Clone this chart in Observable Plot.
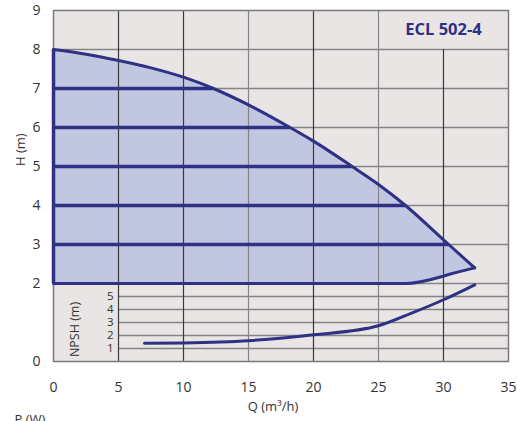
<!DOCTYPE html>
<html>
<head>
<meta charset="utf-8">
<script src="https://cdn.jsdelivr.net/npm/d3@7"></script>
<script src="https://cdn.jsdelivr.net/npm/@observablehq/plot@0.6"></script>
<style>
  html, body { margin: 0; padding: 0; background: #fff; }
  #chart svg { display: block; }
</style>
</head>
<body>
<div id="chart"></div>
<script>
// Pump curve: flow Q (m³/h) against head H (m)
const flowQ   = [0, 2.5, 5, 7.5, 10, 12.3, 15, 18.2, 20, 22.97, 25, 27.08, 30, 30.4, 32.4];
const headMax = [8, 7.88, 7.72, 7.53, 7.29, 7, 6.58, 6, 5.65, 5, 4.54, 4, 3.12, 3, 2.4];
const headMin = [2, 2, 2, 2, 2, 2, 2, 2, 2, 2, 2, 2.0, 2.19, 2.23, 2.4];

// Constant-head speed settings and where they meet the max curve
const speedHead = [7, 6, 5, 4, 3];
const speedEndQ = [12.3, 18.2, 22.97, 27.08, 30.4];

// NPSH requirement (m), drawn in the lower band at a third of the head scale
const npshQ = [7, 10, 15, 20, 25, 27.5, 30, 32.4];
const npshV = [1.4, 1.43, 1.6, 2.05, 2.75, 3.7, 4.75, 5.9];

const xTicks = [0, 5, 10, 15, 20, 25, 30, 35];
const yTicks = [0, 2, 3, 4, 5, 6, 7, 8, 9];
const npshTicks = [1, 2, 3, 4, 5];
const hGrid = [2, 3, 4, 5, 6, 7, 8];
const vGrid = [5, 10, 15, 20, 25, 30];

const title = "ECL 502-4";

const curve = flowQ.map((q, i) => ({q, hi: headMax[i], lo: headMin[i]}));
const speeds = speedHead.map((h, i) => ({h, q2: speedEndQ[i]}));
const npsh = npshQ.map((q, i) => ({q, v: npshV[i]}));
const npshScale = 3;

const navy = "#2e3184";
const gridDark = "#3a3a3a";
const gridGray = "#858585";
const font = "Open Sans, sans-serif";

const chart = Plot.plot({
  width: 517,
  height: 421,
  marginLeft: 53,
  marginRight: 9,
  marginTop: 10,
  marginBottom: 60,
  style: {fontFamily: font, fontSize: "14px", color: "#333", background: "#fff"},
  x: {domain: [0, 35]},
  y: {domain: [0, 9]},
  marks: [
    Plot.frame({fill: "#e8e5e4"}),
    // operating area
    Plot.areaY(curve, {x: "q", y1: "lo", y2: "hi", fill: "#c1c7e1", curve: "monotone-x"}),
    // grid
    Plot.ruleY(hGrid, {stroke: gridGray, strokeWidth: 1.5}),
    Plot.ruleY(npshTicks, {y: d => d / npshScale, x1: 5, x2: 35, stroke: gridGray, strokeWidth: 1.5}),
    Plot.ruleX(vGrid, {y1: 0, y2: d => d > 25 ? 8 : 9,
      stroke: d => (d === 15 || d === 25) ? gridGray : gridDark, strokeWidth: 1.2}),
    Plot.frame({stroke: "#7a7a7a", strokeWidth: 1.5}),
    // curves
    Plot.ruleX([0], {y1: 2, y2: 8, stroke: navy, strokeWidth: 3.5}),
    Plot.ruleY(speeds, {y: "h", x1: 0, x2: "q2", stroke: navy, strokeWidth: 3.5}),
    Plot.line(curve, {x: "q", y: "hi", stroke: navy, strokeWidth: 3, curve: "monotone-x"}),
    Plot.line(curve, {x: "q", y: "lo", stroke: navy, strokeWidth: 3, curve: "monotone-x"}),
    Plot.line(npsh, {x: "q", y: d => d.v / npshScale, stroke: navy, strokeWidth: 3, curve: "monotone-x"}),
    // axes
    Plot.axisX(xTicks, {tickSize: 0, tickPadding: 21, label: null, fontSize: 14, fill: "#333"}),
    Plot.axisY(yTicks, {tickSize: 0, tickPadding: 13, label: null, fontSize: 14, fill: "#333"}),
    Plot.text(npshTicks, {x: 5, y: d => d / npshScale, text: d => String(d), textAnchor: "end", dx: -5, fontSize: 11.5, fill: "#333"}),
    Plot.text(["NPSH (m)"], {x: 0, y: 1, rotate: -90, dx: 21, dy: 7, fontSize: 12.5, fill: "#333"}),
    Plot.text(["H (m)"], {frameAnchor: "left", rotate: -90, dx: -33, dy: -20, fontSize: 13, fill: "#333"}),
    Plot.text(["Q (m³/h)"], {frameAnchor: "bottom", dx: -8, dy: 49, fontSize: 13, fill: "#333"}),
    Plot.text(["P (W)"], {frameAnchor: "bottom-left", textAnchor: "start", lineAnchor: "top", dx: -39, dy: 53, fontSize: 13, fill: "#333"}),
    Plot.text([title], {x: 30, y: 8.5, fontSize: 16.5, fontWeight: "bold", fill: navy})
  ]
});

document.getElementById("chart").append(chart);
</script>
</body>
</html>
